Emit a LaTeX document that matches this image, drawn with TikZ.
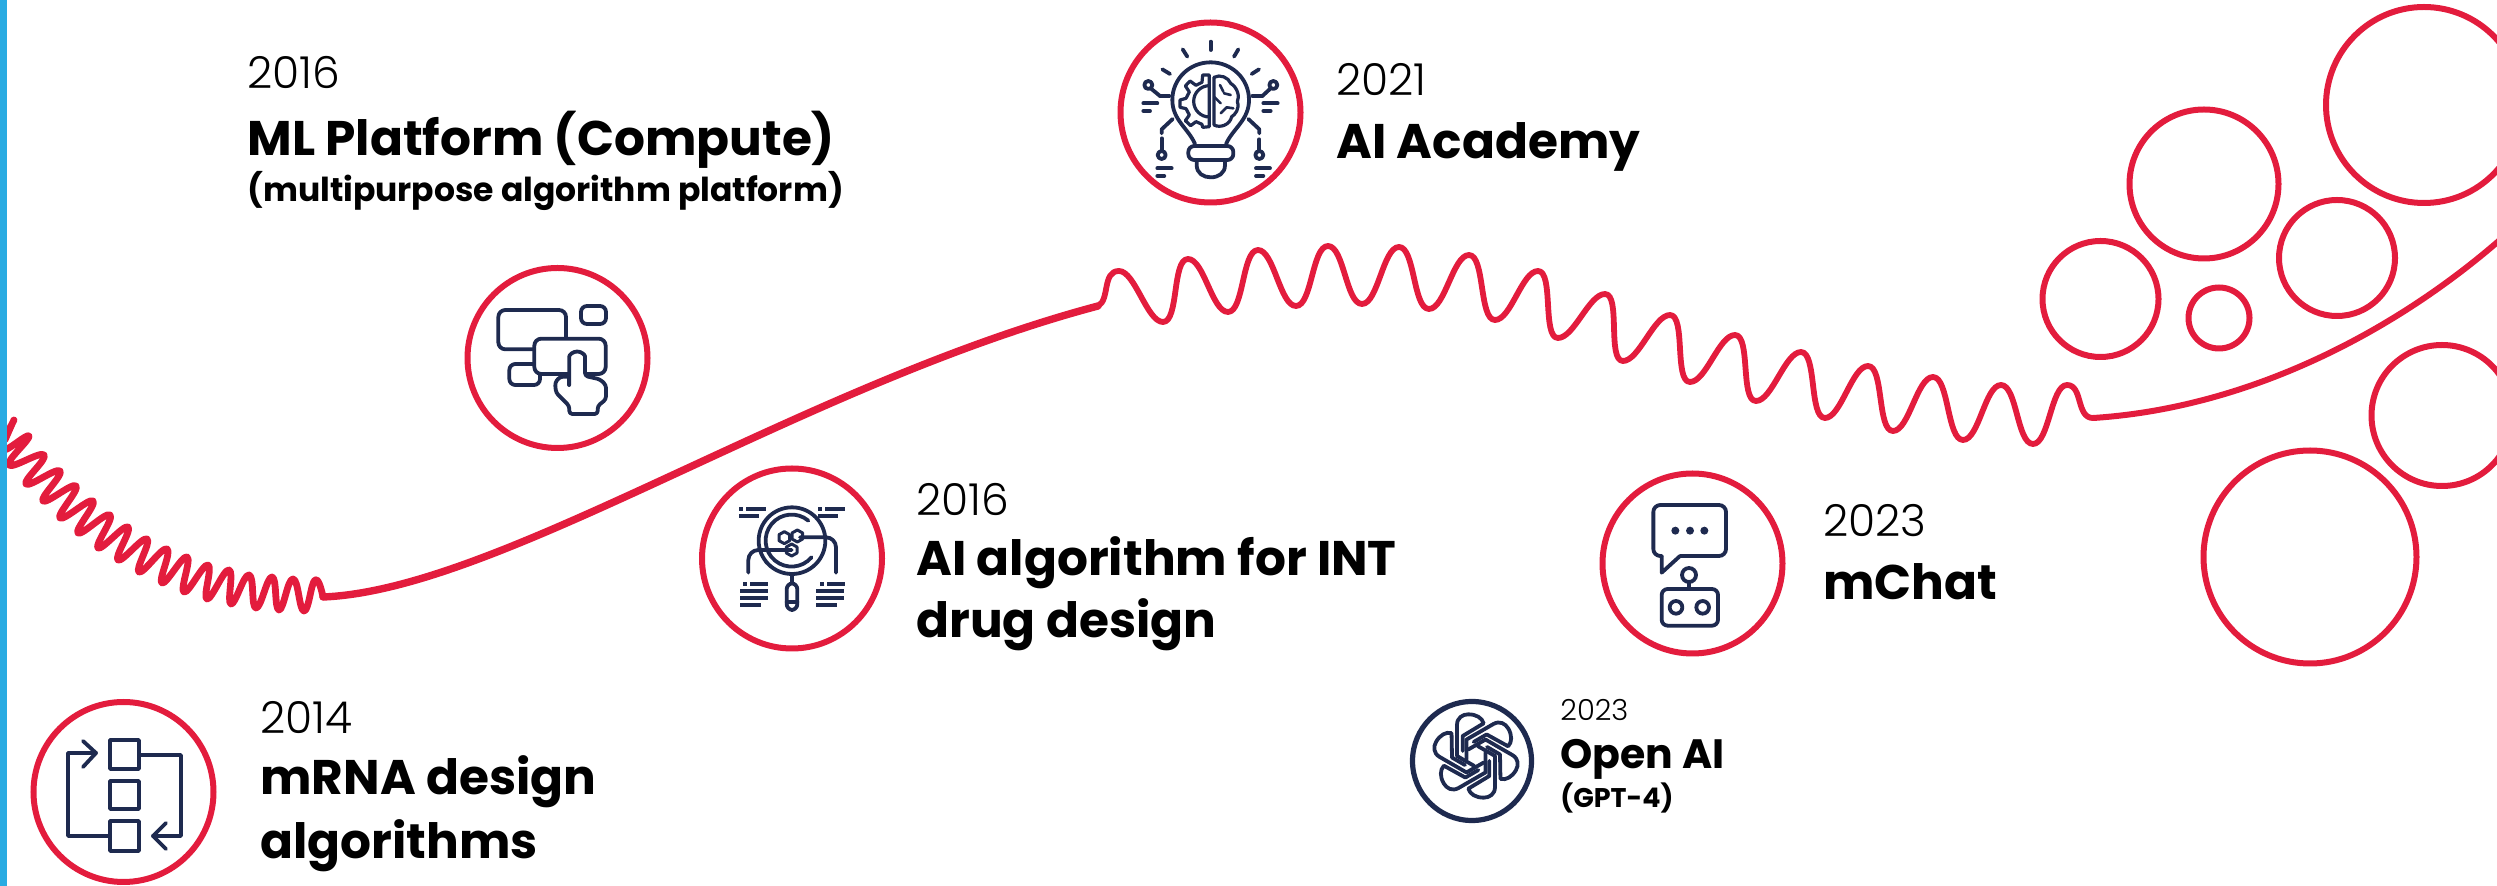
\documentclass[tikz,border=0pt]{standalone}
\usepackage{fontspec}
\newfontfamily\lightf{Poppins Light}
\newfontfamily\boldf{Poppins Bold}
\definecolor{rd}{HTML}{E31C3D}
\definecolor{nv}{HTML}{1E2A4F}
\definecolor{bl}{HTML}{29ABE2}
\tikzset{
 ring/.style={draw=rd,line width=3pt},
 wave/.style={draw=rd,line join=round,line cap=round},
 ico/.style={draw=nv,line width=1.9pt,line join=round,line cap=round},
 bar/.style={fill=nv,draw=none},
 zm/.style={x=0.166667pt,y=-0.166667pt},
 yr/.style={anchor=base west,inner sep=0pt,font=\lightf\fontsize{22}{26}\selectfont,text=black},
 hd/.style={anchor=base west,inner sep=0pt,font=\boldf\fontsize{24.3}{28}\selectfont,text=black},
 sb/.style={anchor=base west,inner sep=0pt,font=\boldf\fontsize{16.5}{20}\selectfont,text=black}
}
\begin{document}
\begin{tikzpicture}[x=0.5pt,y=-0.5pt]
\useasboundingbox (0,0) rectangle (2497,886);
\clip (0,0) rectangle (2497,886);
% decorative circles
\draw[ring] (2424,105) circle[radius=98];
\draw[ring] (2204,184) circle[radius=74.5];
\draw[ring] (2100.5,299) circle[radius=58];
\draw[ring] (2219,318) circle[radius=30.5];
\draw[ring] (2337,258) circle[radius=58];
\draw[ring] (2442,415.5) circle[radius=70.5];
\draw[ring] (2310,557) circle[radius=106.5];
% waves
\draw[wave,line width=3.4pt] plot[smooth,tension=0.8] coordinates {(5,440)(14,420)(2,450)(29,436)(9,465)(44,455)(26,484)(60,471)(43,501)(76,486)(60,518)(93,501)(78,533)(110,515)(98,548)(128,527)(118,560)(147,539)(139,572)(167,549)(162,583)(187,557)(184,592)(208,565)(207,599)(229,570)(231,604)(249,575)(256,608)(272,577)(279,610)(293,579)(304,611)(315,580)(323,597)};
\draw[wave,line width=3.7pt] (323,597) .. controls (500,590) and (800,385) .. (1098,306);
\draw[wave,line width=2.9pt] (1098,306) .. controls (1110,300) and (1102,271) .. (1119,271)
 foreach \x/\y [remember=\x as \px (initially 1119), remember=\y as \py (initially 271)] in {1163/322,1188/259,1228/312,1258/250,1296/306,1328/246,1362/304,1399/247,1429/309,1469/255,1495/320,1538/271,1558/338,1605/294,1623/361,1670/315,1690/382,1735/335,1756/401,1801/352,1825/418,1868/366,1893/431,1933/377,1963/440,2001/385,2033/444,2067/385}{ .. controls ({\px+16},\py) and ({\x-16},\y) .. (\x,\y)}
 .. controls (2083,385) and (2076,418) .. (2093,418);
\draw[wave,line width=3pt] (2093,418) .. controls (2250,408) and (2400,330) .. (2510,231);
% blue edge
\fill[bl] (0,0) rectangle (7,886);
% icon rings
\draw[ring] (123.5,792) circle[radius=90];
\draw[ring] (557.5,358) circle[radius=90];
\draw[ring] (792,558.5) circle[radius=90];
\draw[ring] (1210.5,112.5) circle[radius=90];
\draw[ring] (1692.5,563.5) circle[radius=90];
\draw[draw=nv,line width=2.6pt] (1472,761) circle[radius=59.5];
% icon: flow
\draw[ico] (110,740) rectangle (139,769);
\draw[ico] (110,781) rectangle (139,809);
\draw[ico] (110,821) rectangle (139,851);
\draw[ico] (110,836) -- (68,836) -- (68,753) -- (96,753);
\draw[ico] (83,741) -- (96,753) -- (83,767);
\draw[ico] (139,755) -- (181,755) -- (181,836) -- (153,836);
\draw[ico] (166,823) -- (153,836) -- (166,849);
% icon: touch
\begin{scope}[shift={(440,270)},zm]
\draw[ico,rounded corners=3.5pt] (378,205) -- (378,120) -- (175,120) -- (175,238) -- (285,238);
\draw[ico,rounded corners=3pt] (208,282) rectangle (300,345);
\draw[ico,rounded corners=3pt] (423,108) rectangle (498,162);
\draw[ico,fill=white,rounded corners=3.5pt] (283,206) rectangle (497,312);
\draw[ico,fill=white,rounded corners=1.5pt] (388,345) -- (388,268) arc[start angle=180,end angle=360,radius=23.5] -- (435,318) -- (480,328) -- (498,345) -- (498,388) -- (473,408) -- (473,432) -- (388,432) -- (388,408) -- (348,368) -- (345,338) -- (360,320) -- (388,320);
\draw[ico] (388,345) -- (388,320);
\end{scope}
% icon: lens
\begin{scope}[shift={(680,450)},zm]
\draw[ico] (336,272) circle[radius=100];
\draw[ico] (385,212) arc[start angle=-50,end angle=-320,radius=78];
\fill[nv] (258,338) circle[radius=5];
\draw[ico] (336,375) -- (336,398);
\draw[ico,rounded corners=3pt] (320,400) rectangle (352,480);
\draw[ico] (320,455) -- (352,455);
\foreach \cx/\cy in {313/263,352/258,335/300}{
 \draw[ico,line width=1.5pt] (\cx,\cy-18) -- (\cx+16,\cy-9) -- (\cx+16,\cy+9) -- (\cx,\cy+18) -- (\cx-16,\cy+9) -- (\cx-16,\cy-9) -- cycle;}
\draw[ico,rounded corners=5pt] (205,368) -- (205,300) -- (335,300);
\draw[ico,rounded corners=5pt] (468,368) -- (468,262) -- (360,262);
\foreach \a/\b/\c/\d in {178/172/188/182,197/172/258/182,178/192/237/203,415/172/426/182,435/172/495/182,415/192/474/203,190/397/200/407,210/397/264/407,180/418/264/428,180/438/264/449,180/459/243/470,420/397/432/407,442/397/495/407,408/418/492/428,408/438/492/449,408/459/470/470}{
 \fill[bar] (\a,\b) rectangle (\c,\d);}
\end{scope}
% icon: bulb
\begin{scope}[shift={(1100,0)},zm]
\foreach \a/\b/\c/\d in {332/125/332/150,248/148/262/170,187/208/210/222,477/208/455/222,415/148/402/170,152/265/180/288,130/310/172/310,130/333/150/333,512/265/487/288,490/310/533/310,490/333/512/333,172/505/215/505,172/528/193/528,468/505/510/505,468/528/490/528,185/415/185/450,478/418/478/450}{
 \draw[ico] (\a,\b) -- (\c,\d);}
\draw[ico] (180,288) -- (208,288);
\draw[ico] (487,288) -- (457,288);
\draw[ico] (218,357) -- (185,388) -- (185,400);
\draw[ico] (445,357) -- (478,388) -- (478,400);
\foreach \cx/\cy in {145/255,520/255,185/465,478/465}{\draw[ico] (\cx,\cy) circle[radius=12];}
\draw[ico] (285,432) .. controls (265,385) and (217,360) .. (217,300) .. controls (217,235) and (270,187) .. (332,187) .. controls (394,187) and (447,235) .. (447,300) .. controls (447,360) and (399,385) .. (378,432);
\draw[ico,rounded corners=3pt] (265,438) rectangle (400,480);
\draw[ico] (290,482) -- (290,495) .. controls (290,520) and (310,532) .. (332,532) .. controls (355,532) and (375,520) .. (375,495) -- (375,482);
\draw[ico,line width=1.6pt] (328,225) -- (308,225) -- (306,247) -- (288,256) -- (270,243) -- (256,258) -- (268,276) -- (258,295) -- (240,300) -- (240,322) -- (258,326) -- (268,345) -- (256,362) -- (272,377) -- (288,365) -- (306,373) -- (308,382) -- (328,380) -- cycle;
\draw[ico,line width=1.6pt] (328,257) arc[start angle=-90,end angle=-270,radius=47];
\draw[ico,line width=1.6pt] (342,375) -- (342,232) .. controls (360,222) and (385,232) .. (392,250) .. controls (412,262) and (420,290) .. (412,305) .. controls (420,325) and (405,345) .. (395,350) .. controls (390,375) and (360,385) .. (342,375);
\draw[ico,line width=1.3pt] (342,290) -- (362,310) (372,280) -- (392,285) (362,340) -- (380,322) -- (400,325) (360,255) -- (370,275);
\end{scope}
% icon: chat
\begin{scope}[shift={(1580,460)},zm]
\draw[ico,rounded corners=3.5pt] (300,288) -- (438,288) -- (438,135) -- (220,135) -- (220,288) -- (245,288);
\draw[ico] (300,288) -- (245,338) -- (245,288);
\foreach \x in {286,330,373}{\fill[nv] (\x,212) circle[radius=12];}
\draw[ico] (327,345) circle[radius=21];
\draw[ico] (327,366) -- (327,387);
\draw[ico,rounded corners=3pt] (245,387) rectangle (414,497);
\draw[ico] (288,442) circle[radius=19];
\draw[ico] (368,442) circle[radius=19];
\end{scope}
% icon: knot
\begin{scope}[shift={(1476,756)},zm]
\foreach \r in {0,60,...,300}{
\draw[ico] [rotate=\r] (-5,30) -- (-57,0) -- (-57,-93) .. controls (-57,-115) and (-40,-125) .. (-23,-125) .. controls (0,-125) and (18,-115) .. (23,-98) -- (-40,-60) -- (-40,-15);}
\end{scope}
% texts
\node[yr] (t1a) at (247,89) {2016};
\node[hd] (t1b) at (247,156) {ML Platform (Compute)};
\node[sb] (t1c) at (247,202) {(multipurpose algorithm platform)};
\node[yr] (t2a) at (1336,96) {2021};
\node[hd] (t2b) at (1336,159) {AI Academy};
\node[yr] (t3a) at (916,516) {2016};
\node[hd] (t3b) at (916,576) {AI algorithm for INT};
\node[hd] (t3c) at (916,638) {drug design};
\node[yr] (t4a) at (1823,537) {2023};
\node[hd] (t4b) at (1823,600) {mChat};
\node[yr] (t5a) at (260,734) {2014};
\node[hd] (t5b) at (260,795) {mRNA design};
\node[hd] (t5c) at (260,859) {algorithms};
\node[yr,font=\lightf\fontsize{14.5}{16}\selectfont] (t6a) at (1560,721) {2023};
\node[sb,font=\boldf\fontsize{20.5}{24}\selectfont] (t6b) at (1560,769) {Open AI};
\node[sb,font=\boldf\fontsize{13.5}{16}\selectfont] (t6c) at (1560,808) {(GPT-4)};
\end{tikzpicture}
\end{document}
